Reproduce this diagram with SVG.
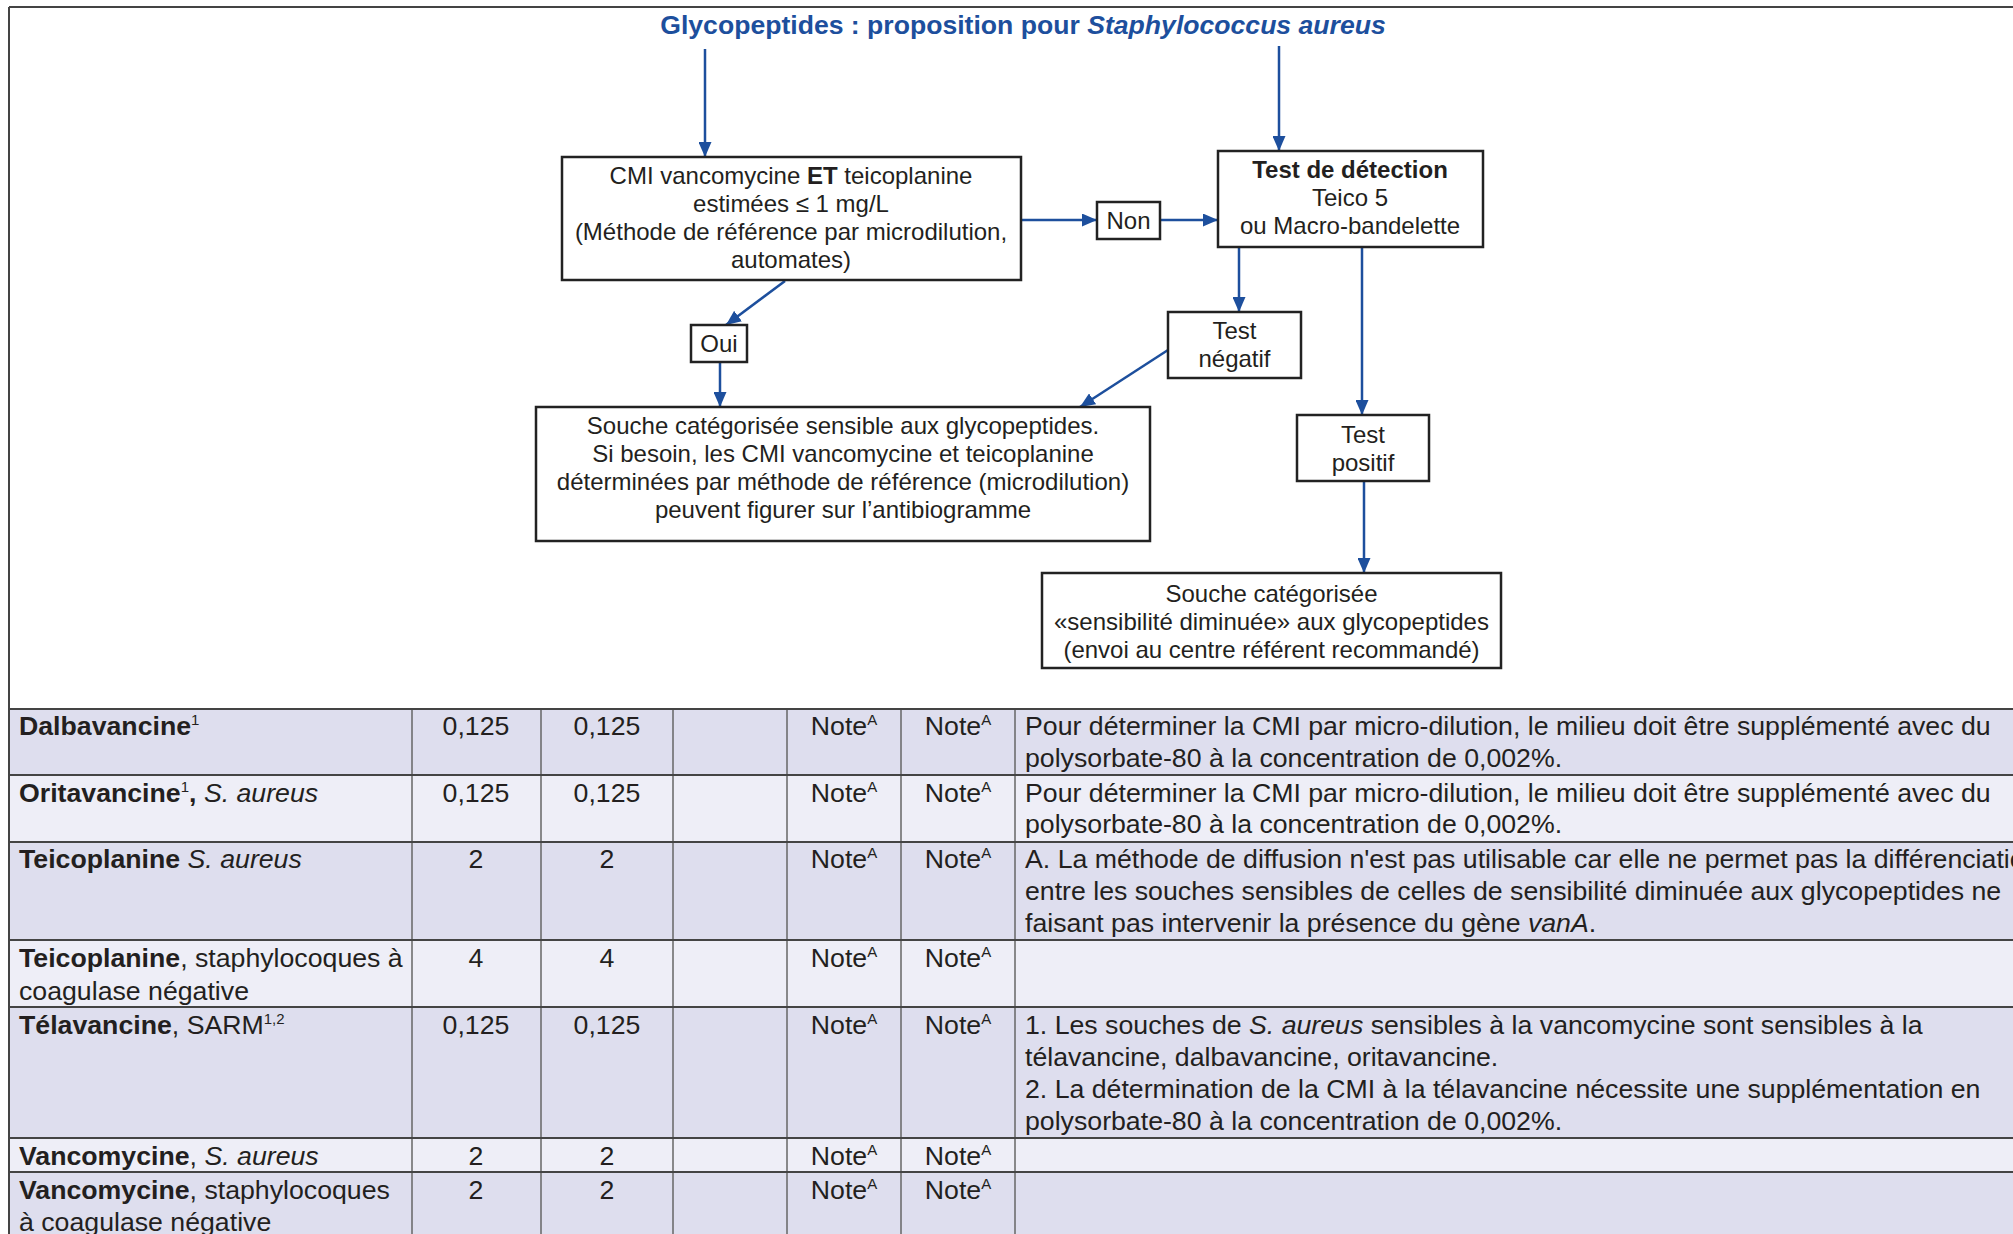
<svg xmlns="http://www.w3.org/2000/svg" width="2013" height="1234" viewBox="0 0 2013 1234">
<defs>
<style>
text{font-family:"Liberation Sans",Arial,Helvetica,sans-serif;fill:#231f20}
.title{font-size:26.6px;font-weight:bold;fill:#1d4f9d}
.fc{font-size:24px;text-anchor:middle}
.box{fill:#fff;stroke:#222;stroke-width:2.5}
.conn{stroke:#1d4f9d;stroke-width:2.5;fill:none}
.t{font-size:26.7px}
.c{text-anchor:middle}
.b{font-weight:bold}
.i{font-style:italic}
.dark{fill:#dedeee}
.light{fill:#eeeef7}
.hl{stroke:#444;stroke-width:2}
.vl{stroke:#666;stroke-width:1.5}
.sup{font-size:15px}
</style>
<marker id="ah" viewBox="0 0 15 13" refX="15" refY="6.5" markerWidth="15" markerHeight="13" markerUnits="userSpaceOnUse" orient="auto">
<path d="M0,0 L15,6.5 L0,13 Z" fill="#1d4f9d"/>
</marker>
</defs>
<rect width="2013" height="1234" fill="#fff"/>

<g id="frame">
<line x1="9" y1="7" x2="2013" y2="7" stroke="#444" stroke-width="2"/>
<line x1="9" y1="7" x2="9" y2="1234" stroke="#444" stroke-width="2"/>
</g>

<text class="title" x="1023" y="34" text-anchor="middle">Glycopeptides : proposition pour <tspan class="i">Staphylococcus aureus</tspan></text>

<g id="connectors">
<line class="conn" x1="705" y1="49" x2="705" y2="157" marker-end="url(#ah)"/>
<line class="conn" x1="1279" y1="46" x2="1279" y2="151" marker-end="url(#ah)"/>
<line class="conn" x1="1021" y1="220" x2="1097" y2="220" marker-end="url(#ah)"/>
<line class="conn" x1="1160" y1="220" x2="1218" y2="220" marker-end="url(#ah)"/>
<line class="conn" x1="785" y1="281" x2="726" y2="325" marker-end="url(#ah)"/>
<line class="conn" x1="720" y1="362" x2="720" y2="407" marker-end="url(#ah)"/>
<line class="conn" x1="1239" y1="247" x2="1239" y2="312" marker-end="url(#ah)"/>
<line class="conn" x1="1168" y1="350" x2="1080" y2="407" marker-end="url(#ah)"/>
<line class="conn" x1="1362" y1="247" x2="1362" y2="415" marker-end="url(#ah)"/>
<line class="conn" x1="1364" y1="481" x2="1364" y2="573" marker-end="url(#ah)"/>
</g>

<g id="node-cmi">
<rect class="box" x="562" y="157" width="459" height="123"/>
<text class="fc" x="791" y="184">CMI vancomycine <tspan class="b">ET</tspan> teicoplanine</text>
<text class="fc" x="791" y="212">estimées ≤ 1 mg/L</text>
<text class="fc" x="791" y="240">(Méthode de référence par microdilution,</text>
<text class="fc" x="791" y="268">automates)</text>
</g>

<g id="node-non">
<rect class="box" x="1097" y="202" width="63" height="37"/>
<text class="fc" x="1128.5" y="229">Non</text>
</g>

<g id="node-test">
<rect class="box" x="1218" y="151" width="265" height="96"/>
<text class="fc b" x="1350" y="178">Test de détection</text>
<text class="fc" x="1350" y="206">Teico 5</text>
<text class="fc" x="1350" y="234">ou Macro-bandelette</text>
</g>

<g id="node-oui">
<rect class="box" x="691" y="325" width="56" height="37"/>
<text class="fc" x="719" y="352">Oui</text>
</g>

<g id="node-negatif">
<rect class="box" x="1168" y="312" width="133" height="66"/>
<text class="fc" x="1234.5" y="339">Test</text>
<text class="fc" x="1234.5" y="367">négatif</text>
</g>

<g id="node-sensible">
<rect class="box" x="536" y="407" width="614" height="134"/>
<text class="fc" x="843" y="434">Souche catégorisée sensible aux glycopeptides.</text>
<text class="fc" x="843" y="462">Si besoin, les CMI vancomycine et teicoplanine</text>
<text class="fc" x="843" y="490">déterminées par méthode de référence (microdilution)</text>
<text class="fc" x="843" y="518">peuvent figurer sur l’antibiogramme</text>
</g>

<g id="node-positif">
<rect class="box" x="1297" y="415" width="132" height="66"/>
<text class="fc" x="1363" y="443">Test</text>
<text class="fc" x="1363" y="471">positif</text>
</g>

<g id="node-diminuee">
<rect class="box" x="1042" y="573" width="459" height="95"/>
<text class="fc" x="1271.5" y="602">Souche catégorisée</text>
<text class="fc" x="1271.5" y="630">«sensibilité diminuée» aux glycopeptides</text>
<text class="fc" x="1271.5" y="658">(envoi au centre référent recommandé)</text>
</g>

<g id="table">
<rect class="dark" x="9" y="709" width="2004" height="66"/>
<rect class="light" x="9" y="775" width="2004" height="67"/>
<rect class="dark" x="9" y="842" width="2004" height="98"/>
<rect class="light" x="9" y="940" width="2004" height="67"/>
<rect class="dark" x="9" y="1007" width="2004" height="131"/>
<rect class="light" x="9" y="1138" width="2004" height="34"/>
<rect class="dark" x="9" y="1172" width="2004" height="62"/>

<line class="vl" x1="412" y1="709" x2="412" y2="1234"/>
<line class="vl" x1="541" y1="709" x2="541" y2="1234"/>
<line class="vl" x1="673" y1="709" x2="673" y2="1234"/>
<line class="vl" x1="787" y1="709" x2="787" y2="1234"/>
<line class="vl" x1="901" y1="709" x2="901" y2="1234"/>
<line class="vl" x1="1015" y1="709" x2="1015" y2="1234"/>
<line class="hl" x1="9" y1="709" x2="2013" y2="709"/>
<line class="hl" x1="9" y1="775" x2="2013" y2="775"/>
<line class="hl" x1="9" y1="842" x2="2013" y2="842"/>
<line class="hl" x1="9" y1="940" x2="2013" y2="940"/>
<line class="hl" x1="9" y1="1007" x2="2013" y2="1007"/>
<line class="hl" x1="9" y1="1138" x2="2013" y2="1138"/>
<line class="hl" x1="9" y1="1172" x2="2013" y2="1172"/>
<line x1="9" y1="709" x2="9" y2="1234" stroke="#444" stroke-width="2"/>

<text class="t" x="19" y="735"><tspan class="b">Dalbavancine</tspan><tspan class="sup" dy="-10">1</tspan></text>
<text class="t c" x="476" y="735">0,125</text>
<text class="t c" x="607" y="735">0,125</text>
<text class="t c" x="844" y="735">Note<tspan class="sup" dy="-10">A</tspan></text>
<text class="t c" x="958" y="735">Note<tspan class="sup" dy="-10">A</tspan></text>
<text class="t" x="1025" y="735">Pour déterminer la CMI par micro-dilution, le milieu doit être supplémenté avec du</text>
<text class="t" x="1025" y="767">polysorbate-80 à la concentration de 0,002%.</text>

<text class="t" x="19" y="802"><tspan class="b">Oritavancine</tspan><tspan class="sup" dy="-10">1</tspan><tspan class="b" dy="10">,</tspan> <tspan class="i">S. aureus</tspan></text>
<text class="t c" x="476" y="802">0,125</text>
<text class="t c" x="607" y="802">0,125</text>
<text class="t c" x="844" y="802">Note<tspan class="sup" dy="-10">A</tspan></text>
<text class="t c" x="958" y="802">Note<tspan class="sup" dy="-10">A</tspan></text>
<text class="t" x="1025" y="802">Pour déterminer la CMI par micro-dilution, le milieu doit être supplémenté avec du</text>
<text class="t" x="1025" y="833">polysorbate-80 à la concentration de 0,002%.</text>

<text class="t" x="19" y="868"><tspan class="b">Teicoplanine</tspan> <tspan class="i">S. aureus</tspan></text>
<text class="t c" x="476" y="868">2</text>
<text class="t c" x="607" y="868">2</text>
<text class="t c" x="844" y="868">Note<tspan class="sup" dy="-10">A</tspan></text>
<text class="t c" x="958" y="868">Note<tspan class="sup" dy="-10">A</tspan></text>
<text class="t" x="1025" y="868">A. La méthode de diffusion n'est pas utilisable car elle ne permet pas la différenciation</text>
<text class="t" x="1025" y="900">entre les souches sensibles de celles de sensibilité diminuée aux glycopeptides ne</text>
<text class="t" x="1025" y="932">faisant pas intervenir la présence du gène <tspan class="i">vanA</tspan>.</text>

<text class="t" x="19" y="967"><tspan class="b">Teicoplanine</tspan>, staphylocoques à</text>
<text class="t" x="19" y="1000">coagulase négative</text>
<text class="t c" x="476" y="967">4</text>
<text class="t c" x="607" y="967">4</text>
<text class="t c" x="844" y="967">Note<tspan class="sup" dy="-10">A</tspan></text>
<text class="t c" x="958" y="967">Note<tspan class="sup" dy="-10">A</tspan></text>

<text class="t" x="19" y="1034"><tspan class="b">Télavancine</tspan>, SARM<tspan class="sup" dy="-10">1,2</tspan></text>
<text class="t c" x="476" y="1034">0,125</text>
<text class="t c" x="607" y="1034">0,125</text>
<text class="t c" x="844" y="1034">Note<tspan class="sup" dy="-10">A</tspan></text>
<text class="t c" x="958" y="1034">Note<tspan class="sup" dy="-10">A</tspan></text>
<text class="t" x="1025" y="1034">1. Les souches de <tspan class="i">S. aureus</tspan> sensibles à la vancomycine sont sensibles à la</text>
<text class="t" x="1025" y="1066">télavancine, dalbavancine, oritavancine.</text>
<text class="t" x="1025" y="1098">2. La détermination de la CMI à la télavancine nécessite une supplémentation en</text>
<text class="t" x="1025" y="1130">polysorbate-80 à la concentration de 0,002%.</text>

<text class="t" x="19" y="1165"><tspan class="b">Vancomycine</tspan>, <tspan class="i">S. aureus</tspan></text>
<text class="t c" x="476" y="1165">2</text>
<text class="t c" x="607" y="1165">2</text>
<text class="t c" x="844" y="1165">Note<tspan class="sup" dy="-10">A</tspan></text>
<text class="t c" x="958" y="1165">Note<tspan class="sup" dy="-10">A</tspan></text>

<text class="t" x="19" y="1199"><tspan class="b">Vancomycine</tspan>, staphylocoques</text>
<text class="t" x="19" y="1231">à coagulase négative</text>
<text class="t c" x="476" y="1199">2</text>
<text class="t c" x="607" y="1199">2</text>
<text class="t c" x="844" y="1199">Note<tspan class="sup" dy="-10">A</tspan></text>
<text class="t c" x="958" y="1199">Note<tspan class="sup" dy="-10">A</tspan></text>
</g>
</svg>
